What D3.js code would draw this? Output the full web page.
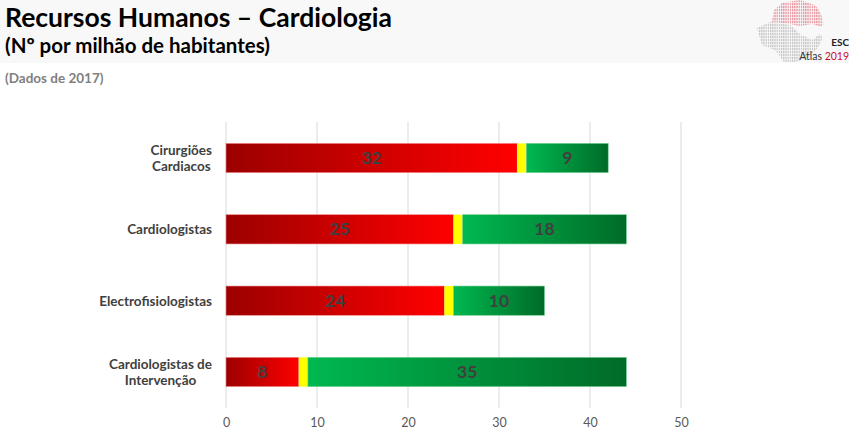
<!DOCTYPE html>
<html><head><meta charset="utf-8">
<script src="https://cdn.jsdelivr.net/npm/d3@7"></script>
<style>
html,body{margin:0;padding:0;background:#fff;}
svg{display:block;font-family:Lato,"Open Sans",sans-serif;}
</style></head>
<body>
<svg id="c" width="849" height="442"></svg>
<script>
const categories = [["Cirurgiões","Cardiacos"],["Cardiologistas"],["Electrofisiologistas"],["Cardiologistas de","Intervenção"]];
const redValues = [32, 25, 24, 8];
const yellowValues = [1, 1, 1, 1];
const greenValues = [9, 18, 10, 35];
const xTicks = [0, 10, 20, 30, 40, 50];

const svg = d3.select("#c");
const W = 849, H = 442;

// header band
svg.append("rect").attr("x",0).attr("y",0).attr("width",W).attr("height",63).attr("fill","#f8f8f8");

// defs: gradients
const defs = svg.append("defs");
const gr = defs.append("linearGradient").attr("id","gRed");
gr.append("stop").attr("offset","0%").attr("stop-color","#9c0000");
gr.append("stop").attr("offset","100%").attr("stop-color","#ff0000");
const gg = defs.append("linearGradient").attr("id","gGreen");
gg.append("stop").attr("offset","0%").attr("stop-color","#00b850");
gg.append("stop").attr("offset","100%").attr("stop-color","#006b28");

// logo (globe)
const clip = defs.append("clipPath").attr("id","globeClip");
clip.append("circle").attr("cx",790).attr("cy",28).attr("r",34);
const pat = defs.append("pattern").attr("id","stripeGray").attr("width",2.2).attr("height",3).attr("patternUnits","userSpaceOnUse");
pat.append("rect").attr("width",1.2).attr("height",2.3).attr("fill","#c4c4c4");
const patR = defs.append("pattern").attr("id","stripeRed").attr("width",2.2).attr("height",3).attr("patternUnits","userSpaceOnUse");
patR.append("rect").attr("width",1.2).attr("height",2.3).attr("fill","#e8919b");
const logo = svg.append("g").attr("clip-path","url(#globeClip)");
logo.append("path").attr("d","M757,28 L770,22 L790,25 L800,34 L812,40 L820,34 L825,40 L825,70 L790,70 L775,50 L762,45 Z").attr("fill","url(#stripeGray)");
logo.append("path").attr("d","M772,22 L774,10 L782,3 L800,0 L818,6 L824,18 L823,27 L812,24 L800,26 L790,24 Z").attr("fill","url(#stripeRed)");
svg.append("text").attr("x",849).attr("y",46).attr("text-anchor","end").attr("font-size",10).attr("font-weight","bold").attr("fill","#222").text("ESC");
const at = svg.append("text").attr("x",849).attr("y",60).attr("text-anchor","end").attr("font-size",10.5).attr("fill","#333");
at.append("tspan").text("Atlas ");
at.append("tspan").attr("fill","#c8102e").text("2019");

// titles
svg.append("text").attr("x",5).attr("y",27).attr("font-size",26.5).attr("font-weight","bold").attr("fill","#000").text("Recursos Humanos – Cardiologia");
svg.append("text").attr("x",5).attr("y",53).attr("font-size",20.5).attr("font-weight","bold").attr("fill","#000").text("(Nº por milhão de habitantes)");
svg.append("text").attr("x",5).attr("y",83).attr("font-size",13.5).attr("font-weight","bold").attr("fill","#808080").text("(Dados de 2017)");

// scales
const x = d3.scaleLinear().domain([0,50]).range([226,681]);
const y = d3.scaleBand().domain(d3.range(categories.length)).range([122,408]).paddingInner(0.59).paddingOuter(0.3);

// gridlines
svg.append("g").selectAll("line").data(xTicks).join("line")
  .attr("x1",d=>x(d)).attr("x2",d=>x(d)).attr("y1",122).attr("y2",408)
  .attr("stroke","#d9d9d9").attr("stroke-width",1);

// x axis labels
const xAxis = d3.axisBottom(x).tickValues(xTicks).tickSize(0).tickPadding(0);
const ax = svg.append("g").attr("transform","translate(0,418)").call(xAxis);
ax.select(".domain").remove();
ax.selectAll("text").attr("font-size",12.5).attr("fill","#595959").attr("font-family","Lato,'Open Sans',sans-serif");

// stacked data
const rows = categories.map((c,i)=>({i, segs:[
  {k:"red", x0:0, x1:redValues[i], v:redValues[i]},
  {k:"yellow", x0:redValues[i], x1:redValues[i]+yellowValues[i], v:yellowValues[i]},
  {k:"green", x0:redValues[i]+yellowValues[i], x1:redValues[i]+yellowValues[i]+greenValues[i], v:greenValues[i]}
]}));
const fills = {red:"url(#gRed)", yellow:"#ffff00", green:"url(#gGreen)"};
const strokes = {red:"#f08888", yellow:"none", green:"#70cf90"};

const g = svg.append("g");
rows.forEach(r=>{
  r.segs.forEach(s=>{
    g.append("rect").attr("x",x(s.x0)).attr("y",y(r.i)).attr("width",x(s.x1)-x(s.x0)).attr("height",y.bandwidth())
      .attr("fill",fills[s.k]).attr("stroke",strokes[s.k]).attr("stroke-width",0.6);
    if (s.k !== "yellow") {
      g.append("text").attr("x",(x(s.x0)+x(s.x1))/2).attr("y",y(r.i)+y.bandwidth()/2+6)
        .attr("text-anchor","middle").attr("font-size",17.5).attr("font-weight","bold").attr("fill","#404040").text(s.v);
    }
  });
});

// category labels
categories.forEach((lines,i)=>{
  const t = svg.append("text").attr("font-size",13.5).attr("font-weight","bold").attr("fill","#404040").attr("text-anchor","middle");
  const cy = y(i)+y.bandwidth()/2;
  const lh = 16;
  lines.forEach((l,j)=>{
    t.append("tspan").attr("y", cy + 5 + (j-(lines.length-1)/2)*lh).text(l);
  });
  let mw = 0;
  t.selectAll("tspan").each(function(){ mw = Math.max(mw, this.getComputedTextLength()); });
  t.selectAll("tspan").attr("x", 212 - mw/2);
});
</script>
</body></html>
